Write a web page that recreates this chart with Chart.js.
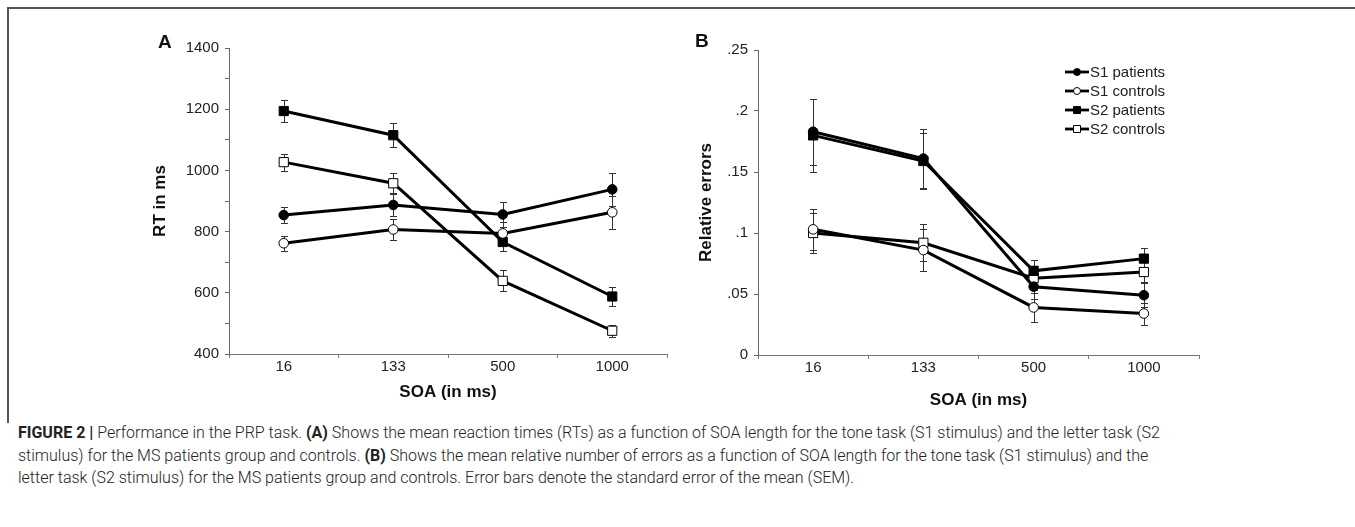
<!DOCTYPE html>
<html>
<head>
<meta charset="utf-8">
<script src="https://cdn.jsdelivr.net/npm/chart.js@4"></script>
<style>
  body { margin: 0; background: #fff; width: 1355px; height: 527px; position: relative; overflow: hidden;
         font-family: "Liberation Sans", Arial, sans-serif; }
  .frameTop { position: absolute; left: 7px; top: 7px; width: 1348px; height: 2px; background: #555; }
  .frameLeft { position: absolute; left: 7px; top: 7px; width: 2px; height: 416px; background: #555; }
  #wrapA { position: absolute; left: 130px; top: 30px; width: 550px; height: 380px; }
  #wrapB { position: absolute; left: 680px; top: 30px; width: 560px; height: 390px; }
  .panel { position: absolute; font-weight: bold; font-size: 19px; line-height: 1; color: #111; }
  #caption { position: absolute; left: 18px; top: 422px; font-family: Roboto, sans-serif; font-weight: 300;
             font-size: 16px; line-height: 22.5px; color: #222; white-space: nowrap; }
  #caption b { font-weight: 700; }
</style>
</head>
<body>
<div class="frameTop"></div>
<div class="frameLeft"></div>
<div id="wrapA"><canvas id="chartA"></canvas></div>
<div id="wrapB"><canvas id="chartB"></canvas></div>
<div class="panel" style="left:158px;top:32px">A</div>
<div class="panel" style="left:695px;top:31px">B</div>
<div id="caption">
  <b>FIGURE 2 |</b> Performance in the PRP task. <b>(A)</b> Shows the mean reaction times (RTs) as a function of SOA length for the tone task (S1 stimulus) and the letter task (S2<br>
  stimulus) for the MS patients group and controls. <b>(B)</b> Shows the mean relative number of errors as a function of SOA length for the tone task (S1 stimulus) and the<br>
  letter task (S2 stimulus) for the MS patients group and controls. Error bars denote the standard error of the mean (SEM).
</div>
<script>
const soaLabels = ['16', '133', '500', '1000'];
const seriesNames = ['S1 patients', 'S1 controls', 'S2 patients', 'S2 controls'];

// panel A: reaction times (ms) and SEM
const rtS1Patients = [854, 887, 856, 938];
const rtS1PatientsSem = [27, 35, 40, 53];
const rtS1Controls = [762, 807, 794, 863];
const rtS1ControlsSem = [25, 33, 38, 53];
const rtS2Patients = [1194, 1115, 766, 588];
const rtS2PatientsSem = [35, 40, 30, 32];
const rtS2Controls = [1027, 958, 639, 476];
const rtS2ControlsSem = [28, 32, 34, 19];
const rtTicks = [400, 600, 800, 1000, 1200, 1400];

// panel B: relative errors and SEM
const errS1Patients = [0.183, 0.161, 0.056, 0.049];
const errS1PatientsSem = [0.027, 0.024, 0.010, 0.010];
const errS1Controls = [0.103, 0.086, 0.039, 0.034];
const errS1ControlsSem = [0.017, 0.017, 0.012, 0.009];
const errS2Patients = [0.180, 0.159, 0.069, 0.079];
const errS2PatientsSem = [0.030, 0.023, 0.009, 0.009];
const errS2Controls = [0.100, 0.092, 0.063, 0.068];
const errS2ControlsSem = [0.016, 0.015, 0.010, 0.008];

const family = '"Liberation Sans", Arial, sans-serif';
const markers = [
    { style: 'circle', fill: '#000', radius: 4.8 },
    { style: 'circle', fill: '#fff', radius: 4.8 },
    { style: 'rect', fill: '#000', radius: 6.5 },
    { style: 'rect', fill: '#fff', radius: 6.5 }
];

function makeDatasets(values, sems) {
    return values.map((v, i) => ({
        label: seriesNames[i],
        data: v,
        errors: sems[i],
        borderColor: '#000',
        borderWidth: 3,
        tension: 0,
        pointStyle: markers[i].style,
        pointRadius: markers[i].radius,
        pointHoverRadius: markers[i].radius,
        pointBackgroundColor: markers[i].fill,
        pointBorderColor: '#000',
        pointBorderWidth: 1
    }));
}

const errorBars = {
    id: 'errorBars',
    beforeDatasetsDraw(chart) {
        const { ctx, scales: { x, y } } = chart;
        ctx.save();
        ctx.strokeStyle = '#333';
        ctx.lineWidth = 1;
        chart.data.datasets.forEach(ds => {
            ds.data.forEach((v, j) => {
                const px = Math.round(x.getPixelForValue(j)) + 0.5;
                const top = Math.round(y.getPixelForValue(v + ds.errors[j])) + 0.5;
                const bot = Math.round(y.getPixelForValue(v - ds.errors[j])) + 0.5;
                ctx.beginPath();
                ctx.moveTo(px, top); ctx.lineTo(px, bot);
                ctx.moveTo(px - 3.5, top); ctx.lineTo(px + 3.5, top);
                ctx.moveTo(px - 3.5, bot); ctx.lineTo(px + 3.5, bot);
                ctx.stroke();
            });
        });
        ctx.restore();
    }
};

// legend with a short line through each marker
const lineLegend = {
    id: 'lineLegend',
    afterDraw(chart, args, opts) {
        if (!opts.show) return;
        const { ctx } = chart;
        ctx.save();
        chart.data.datasets.forEach((ds, i) => {
            const y = opts.y + i * opts.rowHeight;
            const x = opts.x;
            ctx.strokeStyle = '#000';
            ctx.lineWidth = 2.8;
            ctx.beginPath();
            ctx.moveTo(x, y); ctx.lineTo(x + 24, y);
            ctx.stroke();
            ctx.fillStyle = ds.pointBackgroundColor;
            ctx.lineWidth = 1;
            ctx.beginPath();
            if (ds.pointStyle === 'circle') {
                ctx.arc(x + 12, y, 3.5, 0, Math.PI * 2);
            } else {
                ctx.rect(x + 8.5, y - 3.5, 7, 7);
            }
            ctx.fill();
            ctx.stroke();
            ctx.fillStyle = '#222';
            ctx.font = '15px ' + family;
            ctx.textBaseline = 'middle';
            ctx.fillText(ds.label, x + 25, y + 0.5);
        });
        ctx.restore();
    }
};

function makeChart(id, datasets, yOpts, layout, legend) {
    return new Chart(document.getElementById(id), {
        type: 'line',
        data: { labels: soaLabels, datasets: datasets },
        plugins: [errorBars, lineLegend],
        options: {
            responsive: true,
            maintainAspectRatio: false,
            animation: false,
            layout: { padding: layout.padding },
            plugins: {
                legend: { display: false },
                tooltip: { enabled: false },
                lineLegend: legend
            },
            scales: {
                x: {
                    type: 'category',
                    offset: true,
                    grid: { offset: true, drawOnChartArea: false, tickLength: 4, color: '#777' },
                    border: { color: '#777', width: 1 },
                    ticks: { color: '#222', font: { size: 15, family: family }, padding: 0 },
                    title: {
                        display: true, text: 'SOA (in ms)', color: '#111',
                        font: { size: 17, weight: 'bold', family: family },
                        padding: { top: 0, bottom: layout.xTitlePad }
                    },
                    afterFit(s) { s.height = layout.xHeight; }
                },
                y: Object.assign({
                    grid: { drawOnChartArea: false, tickLength: 4, color: '#666' },
                    border: { color: '#666', width: 1 },
                    title: {
                        display: true, text: yOpts.title, color: '#111',
                        font: { size: 17, weight: 'bold', family: family },
                        padding: { top: layout.yTitlePad, bottom: 0 }
                    },
                    afterFit(s) { s.width = layout.yWidth; }
                }, yOpts.scale)
            }
        }
    });
}

makeChart('chartA',
    makeDatasets([rtS1Patients, rtS1Controls, rtS2Patients, rtS2Controls],
                 [rtS1PatientsSem, rtS1ControlsSem, rtS2PatientsSem, rtS2ControlsSem]),
    {
        title: 'RT in ms',
        scale: {
            min: 400, max: 1400,
            ticks: {
                stepSize: 100, autoSkip: false, padding: 6, color: '#222',
                font: { size: 15, family: family },
                callback: v => rtTicks.includes(v) ? String(v) : ''
            }
        }
    },
    { padding: { top: 18, right: 13, bottom: 0, left: 0 }, xHeight: 56, xTitlePad: 7, yWidth: 99, yTitlePad: 20 },
    { show: false });

makeChart('chartB',
    makeDatasets([errS1Patients, errS1Controls, errS2Patients, errS2Controls],
                 [errS1PatientsSem, errS1ControlsSem, errS2PatientsSem, errS2ControlsSem]),
    {
        title: 'Relative errors',
        scale: {
            min: 0, max: 0.25,
            ticks: {
                stepSize: 0.05, autoSkip: false, padding: 6, color: '#222',
                font: { size: 15, family: family },
                callback: v => v === 0 ? '0' : (+v.toFixed(2)).toString().replace(/^0/, '')
            }
        }
    },
    { padding: { top: 20, right: 41, bottom: 0, left: 0 }, xHeight: 65, xTitlePad: 9, yWidth: 78, yTitlePad: 16 },
    { show: true, x: 385, y: 42, rowHeight: 19 });
</script>
</body>
</html>
